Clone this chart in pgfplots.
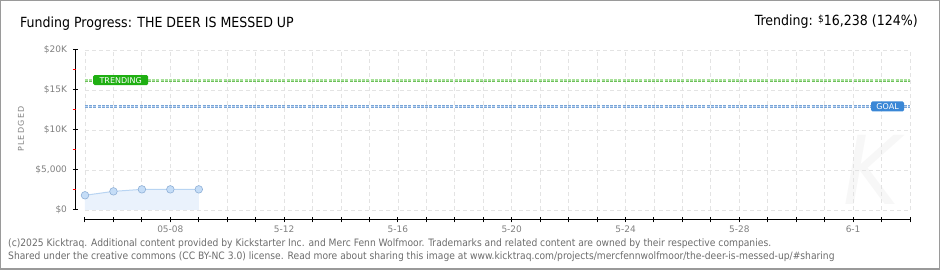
\documentclass[border=0pt]{standalone}
\usepackage{pgfplots}
\pgfplotsset{compat=1.18}
\usepackage{fontspec}
\setmainfont{DejaVu Sans Condensed}
\newfontfamily\tickfont{DejaVu Sans}
\definecolor{trendgreen}{HTML}{6CC05A}
\definecolor{trendlight}{HTML}{A8E09A}
\definecolor{trendbox}{HTML}{1FAF12}
\definecolor{goalblue}{HTML}{7AA6D8}
\definecolor{goallight}{HTML}{B8D0EE}
\definecolor{goalbox}{HTML}{3A87D6}
\definecolor{dataline}{HTML}{B8D4F2}
\definecolor{datafill}{HTML}{EAF2FC}
\definecolor{markfill}{HTML}{C5DDF7}
\definecolor{markdraw}{HTML}{8EAFD6}
\definecolor{labgray}{HTML}{808080}
\begin{document}
\begin{tikzpicture}[x=1pt,y=1pt]
\useasboundingbox (-85,-60) rectangle (855,210);
\begin{scope}[shift={(-85,-60)}]
\draw[labgray!80, line width=1.5pt] (0.75,0.75) rectangle (939.25,269.25);
\node[anchor=west, font=\fontsize{14}{16}\selectfont, inner sep=0] at (20,246) {Funding Progress: THE DEER IS MESSED UP};
\node[anchor=east, font=\fontsize{14}{16}\selectfont, inner sep=0] at (918,248) {Trending: {\fontsize{10}{10}\selectfont\raisebox{3pt}{\$}}16,238 (124\%)};
\node[anchor=center, text=gray!6, font=\itshape\fontsize{95}{95}\selectfont, inner sep=0] at (872,100) {K};
\node[rotate=90, text=labgray, font=\tickfont\fontsize{8}{9}\selectfont, inner sep=0] at (21,141) {P\,L\,E\,D\,G\,E\,D};
\node[anchor=west, text=gray!85!black, font=\fontsize{10.2}{11}\selectfont, inner sep=0] at (8,26) {(c)2025 Kicktraq. Additional content provided by Kickstarter Inc. and Merc Fenn Wolfmoor. Trademarks and related content are owned by their respective companies.};
\node[anchor=west, text=gray!85!black, font=\fontsize{10.2}{11}\selectfont, inner sep=0] at (8,13) {Shared under the creative commons (CC BY-NC 3.0) license. Read more about sharing this image at www.kicktraq.com/projects/mercfennwolfmoor/the-deer-is-messed-up/\#sharing};
\end{scope}
\begin{axis}[
  scale only axis, width=825pt, height=160pt,
  xmin=0, xmax=29, ymin=0, ymax=20000,
  axis x line*=bottom, axis y line*=left,
  axis x line shift=10pt, axis y line shift=9pt,
  axis line style={black, line width=1pt, -},
  xtick={0,...,29},
  xticklabels={,,,05-08,,,,5-12,,,,5-16,,,,5-20,,,,5-24,,,,5-28,,,,6-1,,},
  ytick={0,5000,10000,15000,20000},
  yticklabels={\$0,{\$5,000},\$10K,\$15K,\$20K},
  scaled y ticks=false,
  tick align=center, major tick length=5pt,
  tick style={black, line width=1pt},
  ticklabel style={text=labgray, font=\tickfont\fontsize{9}{10}\selectfont},
  xticklabel style={yshift=0pt},
  yticklabel style={xshift=-3pt},
  grid=major,
  major grid style={gray!22, line width=0.8pt, dash pattern=on 4pt off 3pt},
  extra y ticks={2500,7500,12500,17500},
  extra y tick labels={},
  extra y tick style={grid=none, major tick length=3pt, tick align=outside, tick style={red, line width=1pt}},
  clip=false,
]
\addplot[draw=none, fill=datafill] coordinates {(0,1840) (1,2330) (2,2580) (3,2580) (4,2580)} \closedcycle;
\addplot[dataline, line width=1pt, mark=*, mark size=3.8pt, mark options={fill=markfill, draw=markdraw, line width=0.6pt}] coordinates {(0,1840) (1,2330) (2,2580) (3,2580) (4,2580)};
\addplot[trendgreen, line width=3pt, dash pattern=on 3pt off 1.2pt] coordinates {(0,16238) (29,16238)};
\addplot[trendlight, line width=1.2pt, dash pattern=on 3pt off 1.2pt] coordinates {(0,16238) (29,16238)};
\addplot[goalblue, line width=3pt, dash pattern=on 3pt off 1.2pt] coordinates {(0,12950) (29,12950)};
\addplot[goallight, line width=1.2pt, dash pattern=on 3pt off 1.2pt] coordinates {(0,12950) (29,12950)};
\node[anchor=west, fill=trendbox, text=white, rounded corners=1.5pt, inner xsep=3pt, inner ysep=2pt, minimum width=55pt, font=\tickfont\fontsize{8}{9}\selectfont] at (axis cs:0.28,16238) {TRENDING};
\node[anchor=east, fill=goalbox, text=white, rounded corners=1.5pt, inner xsep=3pt, inner ysep=2pt, minimum width=33pt, font=\tickfont\fontsize{8}{9}\selectfont] at (axis cs:28.8,12950) {GOAL};
\end{axis}
\end{tikzpicture}
\end{document}
